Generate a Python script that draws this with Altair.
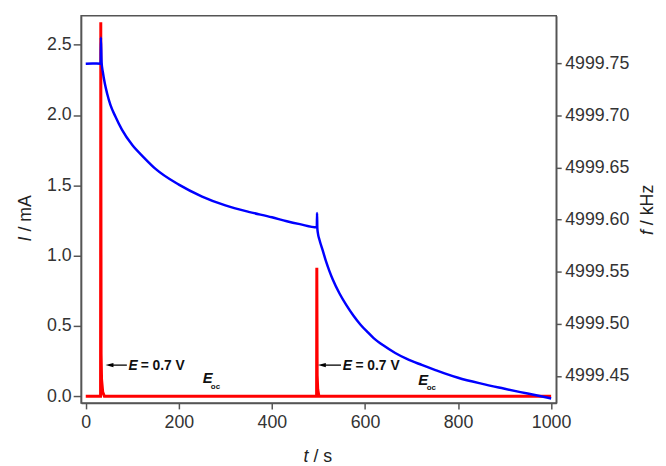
import altair as alt
import pandas as pd

FONT = "Liberation Sans"

# ---- data ----
t_red = [0, 31.8, 32.3, 33.0, 34.0, 36.5, 40.0, 496.0, 496.5, 497.3, 498.5, 501.0, 1000]
i_red = [0, 0, 2.66, 0.30, 0.12, 0.03, 0, 0, 0.915, 0.15, 0.05, 0, 0]

t_blue = [0, 15, 32.0, 32.5, 34.0, 36.7, 41.0, 45.9, 53.0, 63.7, 77.7, 100, 125, 150, 200,
          250, 300, 350, 400, 432, 460, 496.5, 497.0, 497.6, 498.9, 502.3, 509.5, 516.5,
          523.6, 530.8, 545, 560, 575, 590, 605, 618, 640, 665, 690, 722, 750, 771, 800,
          850, 898, 934, 965, 1000]
f_blue = [4999.7495, 4999.7497, 4999.7495, 4999.7746, 4999.7509, 4999.7415, 4999.7304,
          4999.7209, 4999.7099, 4999.6988, 4999.6862, 4999.6714, 4999.6595, 4999.6486,
          4999.6335, 4999.6221, 4999.6136, 4999.6074, 4999.6022, 4999.5984, 4999.5956,
          4999.5925, 4999.6063, 4999.5918, 4999.5868, 4999.5804, 4999.5700, 4999.5596,
          4999.5506, 4999.5425, 4999.5293, 4999.5179, 4999.5080, 4999.4994, 4999.4923,
          4999.4866, 4999.4791, 4999.4720, 4999.4663, 4999.4606, 4999.4559, 4999.4525,
          4999.4483, 4999.4426, 4999.4379, 4999.4345, 4999.4317, 4999.4284]

x_ticks = [0, 200, 400, 600, 800, 1000]
i_ticks = [0.0, 0.5, 1.0, 1.5, 2.0, 2.5]
f_ticks = [4999.45, 4999.50, 4999.55, 4999.60, 4999.65, 4999.70, 4999.75]

# annotations (data coordinates of the current axis)
arrow_head_t = [51.0, 507.4]
arrow_tail_t = [88.3, 548.4]
arrow_i = [0.222, 0.222]
e_t = [91.6, 552.0]
eq_t = [118.0, 579.5]
e_i = [0.187, 0.187]
eoc_t = [251.2, 714.6]
eoc_i = [0.093, 0.081]
oc_t = [268.8, 732.5]
oc_i = [0.053, 0.044]

red_df = pd.DataFrame({"t": t_red, "I": i_red})
blue_df = pd.DataFrame({"t": t_blue, "f": f_blue})
arrow_df = pd.DataFrame({"t": arrow_tail_t, "th": arrow_head_t, "I": arrow_i})
e_df = pd.DataFrame({"t": e_t, "t2": eq_t, "I": e_i})
eoc_df = pd.DataFrame({"t": eoc_t, "I": eoc_i, "ts": oc_t, "Is": oc_i})

x_scale = alt.Scale(domain=[-10, 1011], nice=False, zero=False)
yI_scale = alt.Scale(domain=[-0.047, 2.706], nice=False, zero=False)
yf_scale = alt.Scale(domain=[4999.4241, 4999.7955], nice=False, zero=False)

AX = dict(labelFont=FONT, labelFontSize=18, labelColor="#333333", domainColor="#555555",
          tickColor="#555555", domainWidth=1.5, tickWidth=1.5, grid=False, title=None,
          labelFlush=False)

x_axis = alt.Axis(values=x_ticks, tickSize=6, labelPadding=5, format="d", orient="bottom", **AX)
yI_axis = alt.Axis(values=i_ticks, tickSize=8, labelPadding=2, format=".1f", orient="left", **AX)
yf_axis = alt.Axis(values=f_ticks, tickSize=5, labelPadding=3.5, format=".2f", orient="right", **AX)


def X(field="t"):
    return alt.X(f"{field}:Q", scale=x_scale, axis=x_axis)


def YI(field="I"):
    return alt.Y(f"{field}:Q", scale=yI_scale, axis=yI_axis)


red = alt.Chart(red_df).mark_line(color="#ff0000", strokeWidth=3, clip=True).encode(
    x=X(), y=YI())

blue = alt.Chart(blue_df).mark_line(color="#0000ff", strokeWidth=2.5, clip=True,
                                    interpolate="monotone").encode(
    x=X(), y=alt.Y("f:Q", scale=yf_scale, axis=yf_axis))

arrow_line = alt.Chart(arrow_df).mark_rule(color="#000000", strokeWidth=1.3).encode(
    x=X(), x2="th:Q", y=YI())
arrow_head = alt.Chart(arrow_df).mark_point(
    shape="M -1 0 L 1 -0.55 L 1 0.55 Z", filled=True, color="#000000", opacity=1, size=64
).encode(x=X("th"), y=YI())

e_txt = alt.Chart(e_df).mark_text(
    text="E", font=FONT, fontSize=14, fontWeight="bold", fontStyle="italic",
    align="left", baseline="alphabetic", color="#111111").encode(x=X(), y=YI())
eq_txt = alt.Chart(e_df).mark_text(
    text="= 0.7 V", font=FONT, fontSize=14, fontWeight="bold",
    align="left", baseline="alphabetic", color="#111111").encode(x=X("t2"), y=YI())
eoc_txt = alt.Chart(eoc_df).mark_text(
    text="E", font=FONT, fontSize=15, fontWeight="bold", fontStyle="italic",
    align="left", baseline="alphabetic", color="#111111").encode(x=X(), y=YI())
oc_txt = alt.Chart(eoc_df).mark_text(
    text="oc", font=FONT, fontSize=8, fontWeight="bold",
    align="left", baseline="alphabetic", color="#111111").encode(x=X("ts"), y=YI("Is"))

one = pd.DataFrame({"k": [0]})


def label(text, x, y, italic=False, angle=0):
    kw = dict(text=text, font=FONT, fontSize=18, color="#222222", align="left",
              baseline="alphabetic")
    if italic:
        kw["fontStyle"] = "italic"
    if angle:
        kw["angle"] = angle
    return alt.Chart(one).mark_text(**kw).encode(x=alt.value(x), y=alt.value(y))


titles = [
    label("I", -50.3, 228.5, italic=True, angle=270),
    label("/ mA", -50.3, 218.5, angle=270),
    label("t", 225.2, 452, italic=True),
    label("/ s", 235.2, 452),
    label("f", 579, 222, italic=True, angle=270),
    label("/ kHz", 579, 212, angle=270),
]

left_layer = alt.layer(red, arrow_line, arrow_head, e_txt, eq_txt, eoc_txt, oc_txt, *titles)

chart = alt.layer(left_layer, blue).resolve_scale(y="independent").properties(
    width=481, height=392,
    padding={"left": 74, "top": 5, "right": 103, "bottom": 61},
    autosize=alt.AutoSizeParams(type="none"),
    background="white",
).configure_view(stroke="#555555", strokeWidth=1.5)

chart.save("out.html", embed_options={"renderer": "svg", "actions": False})
